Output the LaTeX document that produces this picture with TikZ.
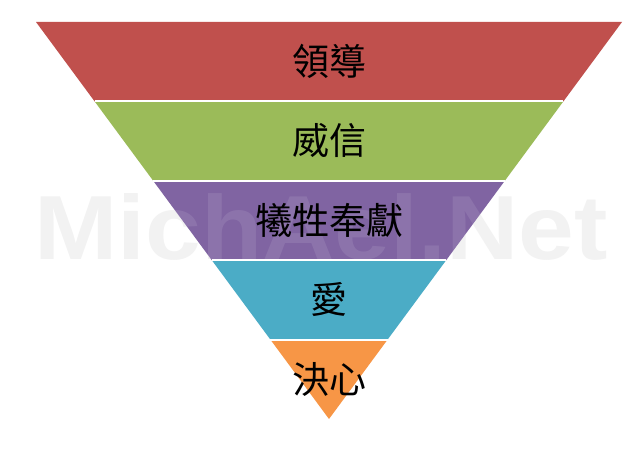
\documentclass[tikz,border=0pt]{standalone}
\usepackage{fontspec}
\newfontfamily\cjk{Noto Sans CJK TC}
\newfontfamily\wmfont{Liberation Sans}
\definecolor{cred}{HTML}{C0504D}
\definecolor{cgreen}{HTML}{9BBB59}
\definecolor{cpurple}{HTML}{8064A2}
\definecolor{cblue}{HTML}{4BACC6}
\definecolor{corange}{HTML}{F79646}
\definecolor{wm}{HTML}{F1F1F1}
\tikzset{
  band/.style={draw=white, line width=1.6pt, line join=miter},
  lbl/.style={font=\cjk\fontsize{37}{40}\selectfont, text=black, inner sep=0pt},
  mark wm/.style={font=\wmfont\bfseries\fontsize{91}{95}\selectfont, inner sep=0pt}
}
\begin{document}
\begin{tikzpicture}[x=1pt,y=-1pt]
\useasboundingbox (0,0) rectangle (640,454);
\fill[white] (0,0) rectangle (640,454);
% watermark
\node[mark wm, text=wm, xscale=1.1, anchor=base] (wmark) at (321,260) {MichAel.Net};
% corners
\coordinate (l0) at (36,22);    \coordinate (r0) at (622,22);
\coordinate (l1) at (94.6,101.4); \coordinate (r1) at (563.4,101.4);
\coordinate (l2) at (153.2,180.8); \coordinate (r2) at (504.8,180.8);
\coordinate (l3) at (211.8,260.2); \coordinate (r3) at (446.2,260.2);
\coordinate (l4) at (270.4,339.6); \coordinate (r4) at (387.6,339.6);
\coordinate (apex) at (329,419);
\fill[cred] (l0) -- (r0) -- (r1) -- (l1) -- cycle;
\fill[cgreen] (l1) -- (r1) -- (r2) -- (l2) -- cycle;
\fill[cpurple] (l2) -- (r2) -- (r3) -- (l3) -- cycle;
\fill[cblue] (l3) -- (r3) -- (r4) -- (l4) -- cycle;
\fill[corange] (l4) -- (r4) -- (apex) -- cycle;
\draw[white, line width=2pt] (l1) -- (r1) (l2) -- (r2) (l3) -- (r3) (l4) -- (r4);
\node[mark wm, text=white, opacity=0.1, xscale=1.1, anchor=base] (wmark2) at (321,260) {MichAel.Net};
% labels
\node[lbl] (t1) at (329,61) {領導};
\node[lbl] (t2) at (329,140.5) {威信};
\node[lbl] (t3) at (329,220) {犧牲奉獻};
\node[lbl] (t4) at (329,299.5) {愛};
\node[lbl] (t5) at (329,379) {決心};
\end{tikzpicture}
\end{document}
